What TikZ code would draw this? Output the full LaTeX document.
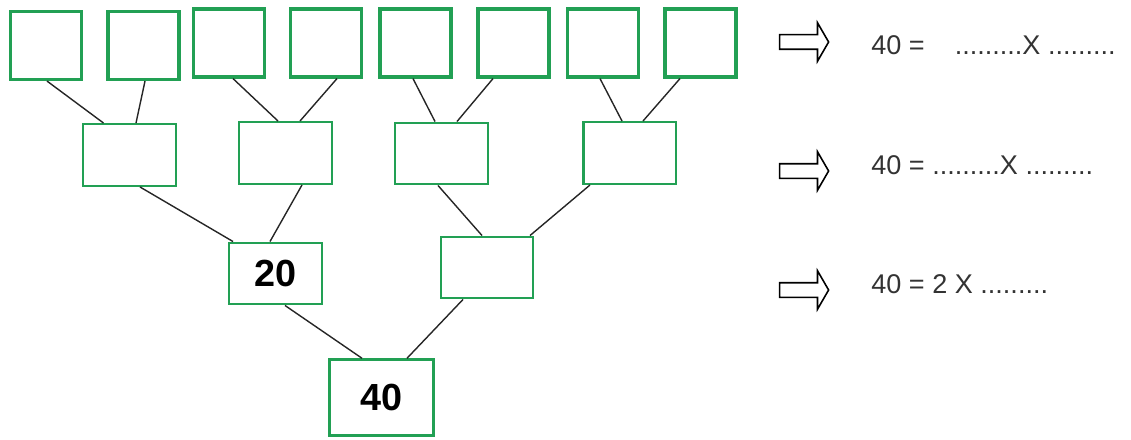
\documentclass[tikz,border=0pt]{standalone}
\usepackage{fontspec}
\setmainfont{Liberation Sans}
\usetikzlibrary{calc,shapes.arrows}
\definecolor{boxgreen}{RGB}{34,160,84}

\begin{document}
\begin{tikzpicture}[x=0.02cm,y=-0.02cm,
    leaf/.style={draw=boxgreen,line width=1.8pt,minimum width=1.42cm,minimum height=1.36cm,inner sep=0pt},
    mid/.style={draw=boxgreen,line width=1.4pt,minimum width=1.85cm,minimum height=1.23cm,inner sep=0pt},
    num/.style={font=\fontsize{21.5}{24}\selectfont\bfseries},
    conn/.style={line width=0.8pt,black!85},
    eq/.style={anchor=west,inner sep=0pt,font=\fontsize{15.4}{18}\selectfont,text=black!80},
    arr/.style={single arrow,draw,line width=0.9pt,minimum height=0.98cm,inner xsep=0pt,inner ysep=0.13cm,
        single arrow head extend=0.24cm,single arrow tip angle=120}]
            \useasboundingbox (0,0) rectangle (1131,439);

            % top row
            \node[leaf] (t1) at (46,45.5) {};
            \node[leaf] (t2) at (143.5,45.5) {};
            \node[leaf] (t3) at (229,43) {};
            \node[leaf] (t4) at (326,43) {};
            \node[leaf] (t5) at (415.5,43) {};
            \node[leaf] (t6) at (513.5,43) {};
            \node[leaf] (t7) at (603,43) {};
            \node[leaf] (t8) at (700.5,43) {};

            % second row
            \node[mid] (m1) at (129.5,155) {};
            \node[mid] (m2) at (285.5,153) {};
            \node[mid] (m3) at (441.5,153.5) {};
            \node[mid] (m4) at (629.5,153) {};

            % third row and root
            \node[mid,num] (l1) at (275.5,273.5) {20};
            \node[mid] (l2) at (487,267.5) {};
            \node[mid,num,minimum width=2.08cm,minimum height=1.52cm] (root) at (381.5,397.5) {40};

            \draw[conn] ($(t1.south)+(1,0)$) -- ($(m1.north)+(-26,0)$);
            \draw[conn] ($(t2.south)+(1.5,0)$) -- ($(m1.north)+(6.5,0)$);
            \draw[conn] ($(t3.south)+(4,0)$) -- ($(m2.north)+(-7.5,0)$);
            \draw[conn] ($(t4.south)+(11,0)$) -- ($(m2.north)+(14.5,0)$);
            \draw[conn] ($(t5.south)+(-2.5,0)$) -- ($(m3.north)+(-6.5,0)$);
            \draw[conn] ($(t6.south)+(-20.5,0)$) -- ($(m3.north)+(15.5,0)$);
            \draw[conn] ($(t7.south)+(-3,0)$) -- ($(m4.north)+(-7.5,0)$);
            \draw[conn] ($(t8.south)+(-20.5,0)$) -- ($(m4.north)+(13.5,0)$);

            \draw[conn] ($(m1.south)+(10.5,0)$) -- ($(l1.north)+(-42.5,0)$);
            \draw[conn] ($(m2.south)+(16.5,0)$) -- ($(l1.north)+(-5.5,0)$);
            \draw[conn] ($(m3.south)+(-3.5,0)$) -- ($(l2.north)+(-5,0)$);
            \draw[conn] ($(m4.south)+(-39.5,0)$) -- ($(l2.north)+(43,0)$);

            \draw[conn] ($(l1.south)+(9.5,0)$) -- ($(root.north)+(-19.5,0)$);
            \draw[conn] ($(l2.south)+(-24,0)$) -- ($(root.north)+(25.5,0)$);

            % right side
            \node[arr] (a1) at (802,42) {};
            \node[arr] (a2) at (802,171) {};
            \node[arr] (a3) at (802,290) {};
            \node[eq] (e1) at (871,45) {40 =\hspace{0.6cm}.........X .........};
            \node[eq] (e2) at (871,165) {40 = .........X .........};
            \node[eq] (e3) at (871,284) {40 = 2 X .........};
        \end{tikzpicture}
\end{document}
